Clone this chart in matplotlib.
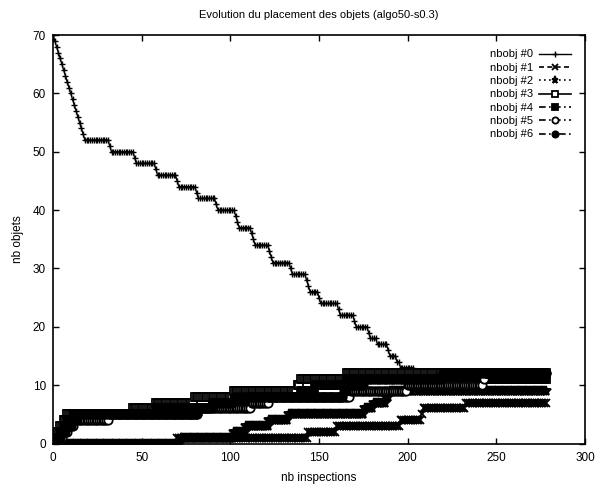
import numpy as np
import matplotlib
matplotlib.use("Agg")
import matplotlib.pyplot as plt

plt.rcParams['font.family'] = ['Liberation Sans', 'DejaVu Sans']

title = "Evolution du placement des objets (algo50-s0.3)"
xlabel = "nb inspections"
ylabel = "nb objets"
labels = ["nbobj #0", "nbobj #1", "nbobj #2", "nbobj #3", "nbobj #4", "nbobj #5", "nbobj #6"]

# Each series is given as change points: the inspection at which the count
# takes a new value, and that value. It holds until the next change point.
s0_x = [0, 1, 2, 3, 4, 5, 6, 7, 8, 9, 10, 11, 12, 13, 14, 15, 16, 17, 18, 32, 33, 46, 47, 58, 59, 70, 71,
        81, 82, 92, 93, 103, 104, 105, 112, 113, 114, 122, 123, 124, 134, 135, 143, 144, 145, 150, 151,
        161, 162, 170, 171, 178, 179, 183, 189, 190, 194, 196]
s0_y = [70, 69, 68, 67, 66, 65, 64, 63, 62, 61, 60, 59, 58, 57, 56, 55, 54, 53, 52, 51, 50, 49, 48, 47, 46, 45, 44,
        43, 42, 41, 40, 39, 38, 37, 36, 35, 34, 33, 32, 31, 30, 29, 28, 27, 26, 25, 24,
        23, 22, 21, 20, 19, 18, 17, 16, 15, 14, 13]
s0_end = 203

s1_x = [0, 70, 144, 160, 196, 208, 209, 233]
s1_y = [0, 1, 2, 3, 4, 5, 6, 7]
s2_x = [0, 72, 102, 109, 122, 133, 176, 181, 188, 190]
s2_y = [0, 1, 2, 3, 4, 5, 6, 7, 8, 9]
s3_x = [0, 1, 2, 4, 6, 8, 45, 58, 80, 102, 138, 140, 166]
s3_y = [0, 1, 2, 3, 4, 5, 6, 7, 8, 9, 10, 11, 12]
s4_x = [0, 2, 4, 6, 8, 12, 58, 90, 112, 140, 148, 166]
s4_y = [0, 1, 2, 3, 4, 5, 6, 7, 8, 9, 10, 11]
s5_x = [0, 3, 6, 9, 12, 32, 82, 112, 122, 168, 200, 243, 244]
s5_y = [0, 1, 2, 3, 4, 5, 6, 7, 8, 9, 10, 11, 12]
s6_x = [0, 2, 5, 8, 11, 14, 82, 90, 102, 164, 166, 176, 220]
s6_y = [0, 1, 2, 3, 4, 5, 6, 7, 8, 9, 10, 11, 12]
s_end = 278

styles = [
    dict(ls='-', marker='+', mfc='k', ms=5, lw=1.0, mew=1.0),
    dict(ls=(0, (3, 2)), marker='x', mfc='k', ms=6, lw=1.2, mew=1.3),
    dict(ls=(0, (1, 2)), marker='*', mfc='k', ms=7, lw=1.2, mew=1.3),
    dict(ls='-', marker='s', mfc='white', ms=6, lw=1.2, mew=1.3),
    dict(ls=(0, (4, 2, 1, 2)), marker='s', mfc='k', ms=6, lw=1.2, mew=1.3),
    dict(ls=(0, (4, 2, 1, 2)), marker='o', mfc='white', ms=6, lw=1.2, mew=1.3),
    dict(ls=(0, (4, 2, 1, 2, 1, 2)), marker='o', mfc='k', ms=6, lw=1.2, mew=1.3),
]


def expand(cx, cy, end):
    """Per-inspection values from change points."""
    xs = np.arange(0, end + 1)
    idx = np.searchsorted(np.asarray(cx), xs, side='right') - 1
    return xs, np.asarray(cy)[idx]


series = [
    (s0_x, s0_y, s0_end),
    (s1_x, s1_y, s_end), (s2_x, s2_y, s_end), (s3_x, s3_y, s_end),
    (s4_x, s4_y, s_end), (s5_x, s5_y, s_end), (s6_x, s6_y, s_end),
]

fig = plt.figure(figsize=(6.08, 4.88), dpi=100)
ax = fig.add_axes([53 / 608, 1 - 443.5 / 488, (585 - 53) / 608, (443.5 - 35) / 488])

for (cx, cy, end), st, lab in zip(series, styles, labels):
    xs, ys = expand(cx, cy, end)
    ax.plot(xs, ys, color='k', lw=st['lw'], mec='k', mew=st['mew'], label=lab,
            linestyle=st['ls'], marker=st['marker'], mfc=st['mfc'], ms=st['ms'])

ax.set_xlim(0, 300)
ax.set_ylim(0, 70)
ax.set_xticks(np.arange(0, 301, 50))
ax.set_yticks(np.arange(0, 71, 10))
ax.tick_params(direction='in', top=True, right=True, length=4, width=1.0, labelsize=8.5)
ax.tick_params(axis='x', pad=6)
ax.tick_params(axis='y', pad=5)
for sp in ax.spines.values():
    sp.set_linewidth(1.2)

ax.set_title(title, fontsize=8, pad=12)
ax.set_xlabel(xlabel, fontsize=8.5, labelpad=6)
ax.set_ylabel(ylabel, fontsize=8.5, labelpad=6)

leg = ax.legend(loc='upper right', frameon=False, fontsize=8, markerfirst=False,
                handlelength=2.8, handletextpad=0.6, labelspacing=0.3,
                borderaxespad=0.9, markerscale=0.75)

fig.savefig("out.png", dpi=100)
